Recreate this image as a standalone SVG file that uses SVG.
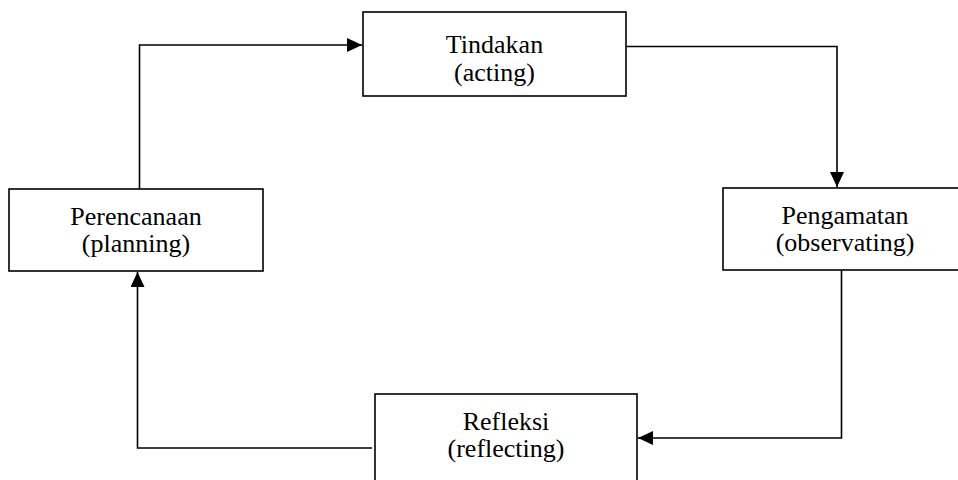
<svg xmlns="http://www.w3.org/2000/svg" width="958" height="480" viewBox="0 0 958 480">
<defs>
<style>
.box{fill:#fff;stroke:#000;stroke-width:1.6}
.lbl{font-family:"Liberation Serif","Times New Roman",serif;font-size:26px;fill:#000;text-anchor:middle}
.edge{fill:none;stroke:#000;stroke-width:1.6}
</style>
<marker id="arr" viewBox="0 0 15 14" refX="15" refY="7" markerWidth="15" markerHeight="14" markerUnits="userSpaceOnUse" orient="auto">
<path d="M0,0 L15,7 L0,14 Z" fill="#000"/>
</marker>
</defs>
<rect width="958" height="480" fill="#fff"/>
<g id="connectors">
<path class="edge" d="M139.5,189 L139.5,45 L362,45" marker-end="url(#arr)"/>
<path class="edge" d="M626,46.5 L837,46.5 L837,187" marker-end="url(#arr)"/>
<path class="edge" d="M841.5,270 L841.5,438 L638,438" marker-end="url(#arr)"/>
<path class="edge" d="M372,448 L137.5,448 L137.5,272" marker-end="url(#arr)"/>
</g>
<g id="tindakan">
<rect class="box" x="363" y="12" width="263" height="84"/>
<text class="lbl" x="494.5" y="53">Tindakan</text>
<text class="lbl" x="494.5" y="81">(acting)</text>
</g>
<g id="perencanaan">
<rect class="box" x="9" y="189" width="254" height="82"/>
<text class="lbl" x="136" y="225">Perencanaan</text>
<text class="lbl" x="136" y="252">(planning)</text>
</g>
<g id="pengamatan">
<rect class="box" x="723" y="188" width="245" height="82"/>
<text class="lbl" x="845" y="224">Pengamatan</text>
<text class="lbl" x="845" y="251">(observating)</text>
</g>
<g id="refleksi">
<rect class="box" x="375" y="394" width="262" height="100"/>
<text class="lbl" x="506" y="430">Refleksi</text>
<text class="lbl" x="506" y="457">(reflecting)</text>
</g>
</svg>
